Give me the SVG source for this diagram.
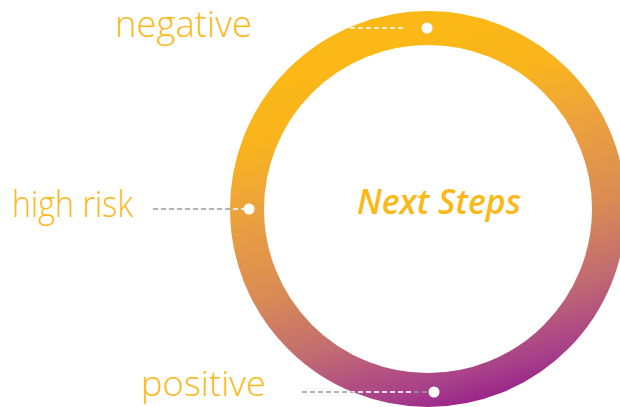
<svg xmlns="http://www.w3.org/2000/svg" width="620" height="407" viewBox="0 0 620 407">
  <defs>
    <linearGradient id="ringFill" gradientUnits="userSpaceOnUse" x1="420" y1="40" x2="520" y2="400">
      <stop offset="0" stop-color="#FBB817"/>
      <stop offset="0.15" stop-color="#F9B41C"/>
      <stop offset="0.31" stop-color="#EDA33C"/>
      <stop offset="0.56" stop-color="#D88A56"/>
      <stop offset="0.74" stop-color="#C06A72"/>
      <stop offset="0.9" stop-color="#A8408A"/>
      <stop offset="1" stop-color="#951A89"/>
    </linearGradient>
    <clipPath id="ringClip">
      <path clip-rule="evenodd" d="M428 11a198 198 0 1 0 0.01 0zM428 45a164 164 0 1 1 -0.01 0z"/>
    </clipPath>
    <style>
      .label { font-family: "Open Sans", "Noto Sans", sans-serif; font-weight: 300; fill: #FBB817; }
      .title { font-family: "Open Sans", "Noto Sans", sans-serif; font-weight: 600; font-style: italic; fill: #FBB817; }
      .lead { fill: none; stroke: #9A9A9A; stroke-width: 1.5; stroke-dasharray: 5 3; }
      .lead-in { fill: none; stroke: #FFFFFF; stroke-width: 1.5; stroke-dasharray: 5 3; }
      .dot { fill: #FFFFFF; }
    </style>
  </defs>

  <!-- gradient ring -->
  <g id="ring">
    <circle cx="428" cy="209" r="181" fill="none" stroke="url(#ringFill)" stroke-width="34"/>
  </g>

  <!-- leader lines: grey on the page, white across the ring -->
  <g id="connectors">
    <line class="lead" x1="153" y1="209" x2="249" y2="209"/>
    <line class="lead" x1="302" y1="392" x2="430" y2="392"/>
    <g clip-path="url(#ringClip)">
      <line class="lead-in" x1="350" y1="28" x2="405" y2="28"/>
      <line class="lead-in" x1="153" y1="209" x2="249" y2="209"/>
      <line class="lead-in" x1="302" y1="392" x2="412" y2="392"/>
    </g>
  </g>

  <g id="node-negative">
    <circle class="dot" cx="427" cy="28" r="5.5"/>
    <text class="label" x="115" y="37" font-size="36" textLength="137" lengthAdjust="spacingAndGlyphs">negative</text>
  </g>

  <g id="node-high-risk">
    <circle class="dot" cx="249" cy="209" r="5.5"/>
    <text class="label" x="12" y="217" font-size="36" textLength="121" lengthAdjust="spacingAndGlyphs">high risk</text>
  </g>

  <g id="node-positive">
    <circle class="dot" cx="434" cy="392" r="5.5"/>
    <text class="label" x="141" y="396" font-size="35" textLength="125" lengthAdjust="spacingAndGlyphs">positive</text>
  </g>

  <g id="node-next-steps">
    <text class="title" x="357" y="214" font-size="34" textLength="164" lengthAdjust="spacingAndGlyphs">Next Steps</text>
  </g>
</svg>
